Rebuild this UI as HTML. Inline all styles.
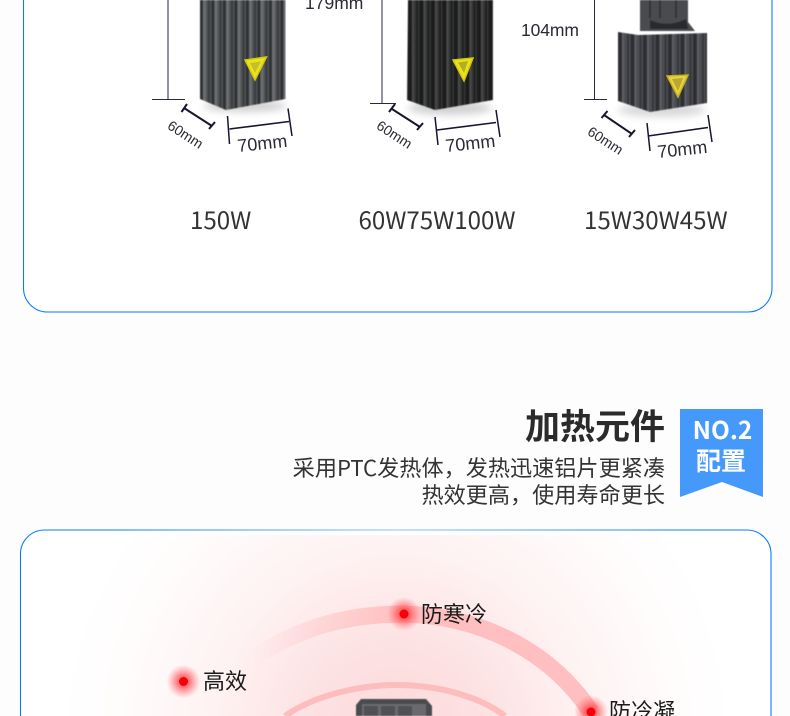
<!DOCTYPE html>
<html lang="zh"><head><meta charset="utf-8"><style>
html,body{margin:0;padding:0;background:#fdfdfd}
svg{display:block}
.n{font-family:"Noto Sans CJK SC","Liberation Sans",sans-serif}
.a{font-family:"Liberation Sans",sans-serif;fill:#2a2a33}
</style></head><body>
<svg width="790" height="716" viewBox="0 0 790 716" xmlns="http://www.w3.org/2000/svg">
<defs>
<filter id="b" x="-10%" y="-10%" width="120%" height="120%"><feGaussianBlur stdDeviation=".55"/></filter>
<filter id="s" x="-30%" y="-100%" width="160%" height="300%"><feGaussianBlur stdDeviation="4"/></filter>
<pattern id="p1" width="11.500" height="10" patternUnits="userSpaceOnUse" x="200">
<rect width="11.500" height="10" fill="#505255"/><rect x="0" width="3" height="10" fill="#2f3033"/><rect x="3" width="3" height="10" fill="#6a6c6f"/><rect x="8" width="2" height="10" fill="#3a3b3e"/></pattern>
<pattern id="p2" width="11.500" height="10" patternUnits="userSpaceOnUse" x="408">
<rect width="11.500" height="10" fill="#333436"/><rect x="0" width="4" height="10" fill="#1b1b1d"/><rect x="4" width="2" height="10" fill="#48494c"/><rect x="8" width="2" height="10" fill="#202123"/></pattern>
<pattern id="p3" width="12.500" height="10" patternUnits="userSpaceOnUse" x="618">
<rect width="12.500" height="10" fill="#4b4e53"/><rect x="0" width="4" height="10" fill="#2d2f33"/><rect x="4" width="2" height="10" fill="#5c5f64"/><rect x="9" width="2" height="10" fill="#34363a"/></pattern>
<linearGradient id="edge" x1="0" x2="1" y1="0" y2="0"><stop offset="0" stop-color="#0a7bff"/><stop offset=".12" stop-color="#0a7bff"/><stop offset=".5" stop-color="#8cc0fb"/><stop offset=".9" stop-color="#0a7bff"/><stop offset="1" stop-color="#0a7bff"/></linearGradient>
<radialGradient id="glow" gradientUnits="userSpaceOnUse" cx="397" cy="735" r="335">
<stop offset="0" stop-color="#fdd8d9"/><stop offset=".3" stop-color="#fde3e4"/><stop offset=".55" stop-color="#fef2f2"/><stop offset=".8" stop-color="#fffbfb"/><stop offset="1" stop-color="#ffffff"/></radialGradient>
<linearGradient id="arc" gradientUnits="userSpaceOnUse" x1="250" y1="0" x2="400" y2="0"><stop offset="0" stop-color="#ffc4c5" stop-opacity="0"/><stop offset="1" stop-color="#ffbfc0"/></linearGradient>
<radialGradient id="dot"><stop offset="0" stop-color="#ff1a1f" stop-opacity=".95"/><stop offset=".45" stop-color="#ff4a4e" stop-opacity=".6"/><stop offset="1" stop-color="#ff6a6e" stop-opacity="0"/></radialGradient>
</defs>
<rect width="790" height="716" fill="#fdfdfd"/>

<!-- top card -->
<path d="M23.500 0V288a24 24 0 0 0 24 24H748a24 24 0 0 0 24-24V0" fill="#fff" stroke="#0a7bff" stroke-width="1.100"/>

<!-- heater 1 -->
<ellipse cx="245" cy="106" rx="42" ry="6" fill="#000" opacity=".18" filter="url(#s)"/>
<path d="M200 0H285.500V99L226 110 200 99Z" fill="url(#p1)" filter="url(#b)"/>
<path d="M245 60 266.500 57 255 80Z" fill="#e8e41a" stroke="#d4c80e" stroke-width="1.500"/>
<path d="M250 63 261 61.500 255 73Z" fill="#c8bd2a"/>
<path d="M168 0V99M152 99.500H185" stroke="#27274a" stroke-width="1" fill="none"/>
<g stroke="#16162e" fill="none">
<path d="M184 108 212 126M181.500 112 187 104M209 129 215 122" stroke-width="2"/>
<path d="M229.500 129 289 121.500" stroke-width="1.600"/>
<path d="M227.500 116 229.500 144M288 108.500 292 136" stroke-width="1.500"/>
</g>
<text class="a" font-size="14" transform="translate(166.500 128) rotate(33)">60mm</text>
<text class="a" font-size="18" transform="translate(238 152) rotate(-6)">70mm</text>
<text class="a" font-size="17.500" x="305" y="9">179mm</text>

<!-- heater 2 -->
<ellipse cx="450" cy="108" rx="42" ry="7" fill="#000" opacity=".18" filter="url(#s)"/>
<path d="M408 0H493V100L435 110 407 100Z" fill="url(#p2)" filter="url(#b)"/>
<path d="M453 60 473 58 464 81Z" fill="#e8e41a" stroke="#d4c80e" stroke-width="1.500"/>
<path d="M458 62.500 468 61 464 73Z" fill="#b5ad22"/>
<path d="M382 0V103.500M370 103.500H396" stroke="#27274a" stroke-width="1" fill="none"/>
<g stroke="#16162e" fill="none">
<path d="M392 109 420 127M389 112 395 104M417 130 423 123" stroke-width="2"/>
<path d="M437 130 496 122.500" stroke-width="1.600"/>
<path d="M435 117 438 145M496 110 500 137" stroke-width="1.500"/>
</g>
<text class="a" font-size="14" transform="translate(375.500 128) rotate(33)">60mm</text>
<text class="a" font-size="18" transform="translate(446 152) rotate(-6)">70mm</text>
<text class="a" font-size="17.500" x="521" y="36" letter-spacing="-.1">104mm</text>

<!-- heater 3 -->
<ellipse cx="662" cy="110" rx="44" ry="7" fill="#000" opacity=".15" filter="url(#s)"/>
<g filter="url(#b)">
<path d="M640 0H688V22L695 31H640Z" fill="#4a4b4f"/>
<path d="M650 0V18M660 0V18M676 0V18" stroke="#2a2b2f" stroke-width="1.500"/>
<path d="M650 20Q668 28 686 19L688 29H650Z" fill="#2a2b2f"/>
<path d="M618 32 638 35 707 33V103L650 112 618 101Z" fill="url(#p3)"/>
</g>
<path d="M667 76 688 75 678 97Z" fill="#e6d43c" stroke="#c8b21c" stroke-width="1.500"/>
<path d="M672 79 683 78 678 91Z" fill="#bba634"/>
<path d="M594.500 0V99.500M584 99.500H607" stroke="#27274a" stroke-width="1" fill="none"/>
<g stroke="#16162e" fill="none">
<path d="M604 115 632 134M601.500 118 607.500 111M629 137 635 130" stroke-width="2"/>
<path d="M648 136 708 127.500" stroke-width="1.600"/>
<path d="M647 123 650 151M708 115 712 142" stroke-width="1.500"/>
</g>
<text class="a" font-size="14" transform="translate(586.500 134) rotate(33)">60mm</text>
<text class="a" font-size="18" transform="translate(658 158) rotate(-6)">70mm</text>

<!-- wattages -->
<g class="n" font-size="24.100" fill="#333">
<text x="190" y="229">150W</text>
<text x="358.500" y="229">60W75W100W</text>
<text x="584" y="229">15W30W45W</text>
</g>

<!-- heading -->
<text class="n" font-size="35" font-weight="700" fill="#2b2b2b" x="665" y="439" text-anchor="end">加热元件</text>
<g class="n" font-size="22.150" fill="#333">
<text x="665" y="476" text-anchor="end">采用PTC发热体，发热迅速铝片更紧凑</text>
<text x="665" y="503" text-anchor="end">热效更高，使用寿命更长</text>
</g>
<path d="M680 409H763V497L722 482 680 497Z" fill="#4599fb"/>
<text class="n" font-size="24.500" font-weight="700" fill="#fff" x="722.500" y="439" text-anchor="middle">NO.2</text>
<text class="n" font-size="25" font-weight="700" fill="#fff" x="721" y="470" text-anchor="middle">配置</text>

<!-- lower card -->
<path d="M20.500 716V554a24 24 0 0 1 24-24H747a24 24 0 0 1 24 24V716Z" fill="#fff"/>
<rect x="50" y="535" width="690" height="181" fill="url(#glow)"/>
<path d="M20.500 716V554a24 24 0 0 1 24-24H747a24 24 0 0 1 24 24V716" fill="none" stroke="url(#edge)" stroke-width="1.100"/>

<!-- arcs -->
<path d="M240 666C300 625 350 614 404 614C480 616 550 650 591 712" fill="none" stroke="url(#arc)" stroke-width="17"/>
<path d="M285 716C315 695 360 685 396 685C440 685 480 697 505 716" fill="none" stroke="#fdbcbe" stroke-width="6"/>

<!-- device -->
<g filter="url(#b)">
<path d="M356 705 361 699H426L432 706V716H356Z" fill="#4a4b4e"/>
<path d="M362 704H426V716H362Z" fill="#6a6b6e"/>
<path d="M364 706h14v10h-14zM381 706h14v10h-14zM398 706h14v10h-14z" fill="#505154"/>
</g>

<!-- dots -->
<circle cx="404" cy="614" r="17" fill="url(#dot)"/><circle cx="404" cy="614" r="4.500" fill="#f5000a"/>
<circle cx="183.500" cy="681.500" r="17" fill="url(#dot)"/><circle cx="183.500" cy="681.500" r="4.500" fill="#f5000a"/>
<circle cx="591" cy="712" r="17" fill="url(#dot)"/><circle cx="591" cy="712" r="4.500" fill="#f5000a"/>
<g class="n" font-size="22" fill="#1a1a1a">
<text x="421" y="622">防寒冷</text>
<text x="203" y="689">高效</text>
<text x="609" y="719">防冷凝</text>
</g>
</svg>
</body></html>
